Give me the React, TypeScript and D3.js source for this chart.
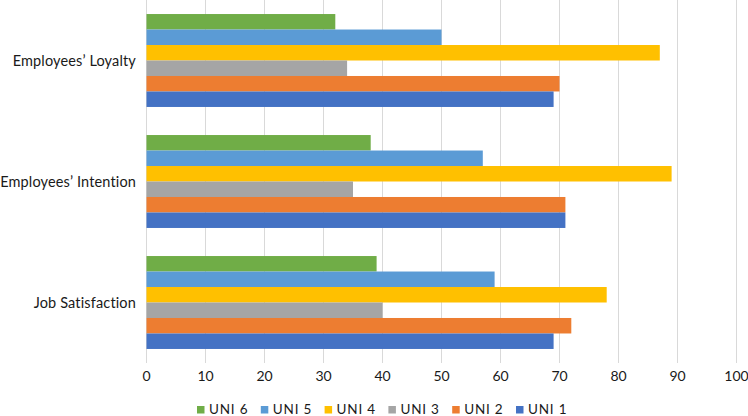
import React from "react";
import * as d3 from "d3";

const categories = ["Employees\u2019 Loyalty", "Employees\u2019 Intention", "Job Satisfaction"];
const seriesNames = ["UNI 6", "UNI 5", "UNI 4", "UNI 3", "UNI 2", "UNI 1"];
const uni6 = [32, 38, 39];
const uni5 = [50, 57, 59];
const uni4 = [87, 89, 78];
const uni3 = [34, 35, 40];
const uni2 = [70, 71, 72];
const uni1 = [69, 71, 69];
const seriesValues = [uni6, uni5, uni4, uni3, uni2, uni1];
const colors = ["#70AD47", "#5B9BD5", "#FFC000", "#A5A5A5", "#ED7D31", "#4472C4"];
const xTicks = [0, 10, 20, 30, 40, 50, 60, 70, 80, 90, 100];

const W = 748;
const H = 416;
const FONT = "Lato, 'Open Sans', sans-serif";

export default function App() {
  const x = d3.scaleLinear().domain([0, 100]).range([146.5, 736.5]);
  const y0 = d3.scaleBand().domain(categories).range([0, 363]).paddingInner(0.232).paddingOuter(0.116);
  const y1 = d3.scaleBand().domain(seriesNames).range([0, y0.bandwidth()]);

  const legendX = d3.scaleLinear().domain([0, seriesNames.length - 1]).range([197, 516]);

  return (
    <svg width={W} height={H} style={{ position: "absolute", left: 0, top: 0, background: "#fff" }}>
      {xTicks.map((t) => (
        <g key={t}>
          <line x1={x(t)} x2={x(t)} y1={0} y2={363} stroke="#D9D9D9" strokeWidth={1} />
          <text x={x(t)} y={381} textAnchor="middle" fontFamily={FONT} fontSize={14} fill="#1a1a1a">
            {t}
          </text>
        </g>
      ))}
      {categories.map((c, ci) => (
        <g key={c} transform={`translate(0,${y0(c)})`}>
          {seriesNames.map((s, si) => (
            <rect
              key={s}
              x={x(0)}
              y={y1(s)}
              width={x(seriesValues[si][ci]) - x(0)}
              height={y1.bandwidth()}
              fill={colors[si]}
            />
          ))}
          <text
            x={136}
            y={y0.bandwidth() / 2 + 6}
            textAnchor="end"
            fontFamily={FONT}
            fontSize={14.5}
            letterSpacing={0.15}
            fill="#1a1a1a"
          >
            {c}
          </text>
        </g>
      ))}
      {seriesNames.map((s, si) => (
        <g key={s} transform={`translate(${legendX(si)},0)`}>
          <rect x={0} y={406} width={7.5} height={7.5} fill={colors[si]} />
          <text x={12} y={413.5} fontFamily={FONT} fontSize={13.5} letterSpacing={0.8} fill="#1a1a1a">
            {s}
          </text>
        </g>
      ))}
    </svg>
  );
}
